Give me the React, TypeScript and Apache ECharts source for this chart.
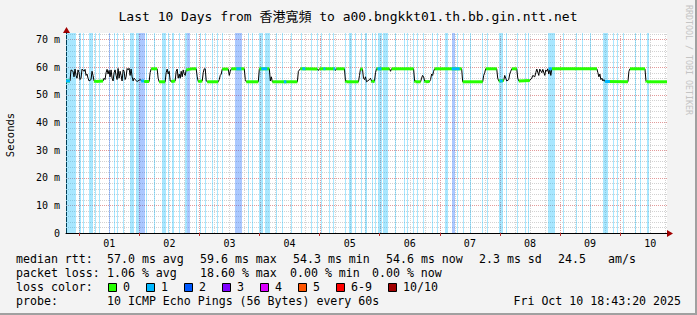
import { useEffect, useRef } from 'react';
import * as echarts from 'echarts';

const MONO = "'DejaVu Sans Mono', 'Noto Sans CJK TC', monospace";

const titleText = 'Last 10 Days from 香港寬頻 to a00.bngkkt01.th.bb.gin.ntt.net';
const dayLabels = ['01', '02', '03', '04', '05', '06', '07', '08', '09', '10'];
const SPAN_HOURS = 240; // 10 days, hours since Sep 30 18:43:20
const FIRST_MIDNIGHT = 5.28; // hours from start to Oct 1 00:00
const Y_MAX = 72.35; // ms
const yLabelValues = [0, 10, 20, 30, 40, 50, 60, 70];

const lossColors = ['#26ff00', '#00b8ff', '#0059ff', '#7e00ff', '#dd00ff', '#ff5500', '#ff0000', '#a10000'];
const lossBandColors = ['rgba(38,255,0,0.33)', 'rgba(0,184,255,0.34)', 'rgba(0,89,255,0.33)'];
const lossLabels = ['0', '1', '2', '3', '4', '5', '6-9', '10/10'];

// median rtt samples [hours since start, ms]
const medianRtt: [number, number][] = [
  [0, 55.0], [1.6, 55.0], [2.0, 59.0], [2.8, 58.5], [3.2, 56.5], [3.6, 59.3], [4.0, 57], [4.4, 56], [4.8, 59], [5.2, 58],
  [5.6, 55.5], [6.0, 56], [6.4, 59.3], [7.2, 58.5], [7.6, 59.2], [8.0, 57], [8.4, 57.5], [8.8, 56], [9.2, 55], [10.0, 55.5],
  [10.4, 58.5], [10.8, 57], [11.2, 55], [12.0, 54.8], [14.8, 55], [15.2, 56], [15.6, 55.5], [16.0, 58], [16.4, 59.2], [16.8, 57.5],
  [17.2, 58.8], [17.6, 56.5], [18.0, 59], [18.4, 56], [18.8, 55], [19.2, 58], [19.6, 59], [20.0, 57], [20.4, 55.5], [20.8, 59.5],
  [21.2, 56], [21.6, 58.5], [22.0, 57], [22.4, 55], [22.8, 59], [23.2, 58.5], [23.6, 55.5], [24.0, 56.5], [24.4, 59.5], [24.8, 59],
  [25.2, 59.6], [25.6, 57], [26.0, 59.3], [26.4, 56.5], [26.8, 55], [27.2, 56], [27.6, 55.5], [28.4, 54.8], [29.6, 55.5], [30.0, 55.2],
  [31.2, 54.8], [33.2, 54.8], [33.6, 58], [34.0, 59.4], [36.4, 59.4], [36.8, 56], [37.2, 54.7], [39.6, 54.7], [40.0, 58], [40.4, 59.3],
  [40.8, 57.5], [41.2, 58.5], [41.6, 55], [42.0, 54.8], [43.6, 55], [44.0, 58.5], [44.4, 59.3], [44.8, 56], [45.2, 57.5], [45.6, 56],
  [46.0, 58.5], [46.4, 56.5], [46.8, 59], [47.2, 57.5], [47.6, 57], [48.0, 59], [49.2, 59.2], [50.4, 59.4], [52.0, 59.4], [52.4, 56.5],
  [52.8, 54.8], [54.4, 55], [54.8, 58], [55.2, 59.4], [55.6, 59.4], [56.0, 55], [56.4, 54.7], [60.8, 54.7], [61.2, 55.5], [61.6, 57],
  [62.0, 57.5], [62.4, 59.3], [64.8, 59.3], [65.2, 57], [65.6, 58.5], [66.0, 59.4], [71.2, 59.4], [71.6, 55.5], [72.0, 54.7], [76.8, 54.7],
  [77.2, 59.4], [81.2, 59.4], [81.6, 55], [82.0, 56.5], [82.4, 54.7], [92.4, 54.7], [92.8, 58.5], [93.6, 59.4], [100.4, 59.3], [100.8, 58.8],
  [101.2, 59.4], [107.2, 59.4], [107.6, 58.8], [108.0, 59.4], [111.2, 59.4], [111.6, 55], [112.0, 54.7], [116.8, 54.7], [117.2, 57], [117.6, 59.4],
  [118.4, 59.2], [118.8, 56], [119.2, 55.5], [119.6, 56.5], [120.0, 54.7], [121.2, 55.5], [121.6, 56], [122.0, 55], [122.4, 54.7], [123.2, 55],
  [123.6, 58], [124.0, 59.4], [129.2, 59.4], [129.6, 58.5], [130.0, 59.4], [138.8, 59.4], [139.2, 55], [139.6, 54.7], [141.6, 54.7], [142.0, 56],
  [142.4, 57], [142.8, 56.5], [143.2, 55], [143.6, 54.7], [145.2, 54.8], [145.6, 55.5], [146.0, 57.5], [146.4, 57], [146.8, 58.5], [147.2, 59.4],
  [158.0, 59.4], [158.4, 54.7], [166.4, 54.7], [166.8, 57], [167.2, 58], [167.6, 59.4], [172.0, 59.4], [172.4, 56], [172.8, 55], [174.8, 55.2],
  [175.2, 57], [175.6, 56], [176.0, 55], [176.8, 55.5], [177.2, 57.5], [177.6, 58.5], [178.0, 59.4], [180.0, 59.4], [180.4, 56], [180.8, 55],
  [185.2, 55.2], [186.0, 56], [186.4, 57], [187.2, 56.5], [187.6, 58], [188.0, 59.3], [188.8, 57], [189.2, 59.3], [190.0, 58], [190.4, 59.2],
  [191.2, 57], [191.6, 59], [192.0, 58.5], [192.4, 59.4], [192.8, 57.5], [193.2, 59.4], [193.6, 57], [194.0, 59.4], [212.0, 59.4], [212.4, 58],
  [212.8, 56.5], [213.2, 57.5], [213.6, 55.5], [214.0, 56], [214.4, 55], [214.8, 55.5], [215.2, 54.8], [224.4, 54.7], [224.8, 58.5], [225.2, 59.4],
  [231.2, 59.4], [231.6, 55], [232.0, 54.7], [240, 54.7],
];

// stretches of the median drawn in the 1/10 loss colour [from h, to h, ms]
const blueSpans: [number, number, number][] = [
  [0, 1.6, 55.0], [30.0, 31.2, 55.0], [68.0, 70.0, 59.4], [78.0, 80.4, 59.4], [87.0, 88.0, 54.7], [94.4, 95.6, 59.4],
  [102.8, 103.6, 59.4], [106.8, 107.6, 59.4], [124.4, 126.0, 59.4], [154.0, 157.2, 59.4], [173.2, 174.4, 55.0],
  [192.8, 194.0, 59.4], [215.2, 217.2, 54.8],
];

// loss background bands [from h, to h, loss level]
const lossBands: [number, number, number][] = [
  [0, 4.0, 1], [5.2, 6.0, 1], [6.8, 7.2, 1], [9.2, 10.8, 1], [11.6, 12.0, 1], [13.2, 13.6, 1], [17.2, 17.6, 2], [19.2, 19.6, 1],
  [20.4, 20.8, 1], [22.8, 23.2, 1], [25.6, 27.2, 1], [28.0, 29.2, 1], [29.2, 31.6, 2], [32.0, 32.4, 1], [35.2, 35.6, 1],
  [38.4, 40.0, 1], [40.8, 41.2, 1], [42.4, 43.2, 1], [45.2, 45.6, 1], [47.6, 48.4, 1], [48.4, 49.6, 2], [52.0, 52.4, 1],
  [53.6, 54.0, 1], [55.6, 56.0, 1], [58.4, 58.8, 1], [60.4, 60.8, 1], [62.4, 62.8, 1], [67.6, 70.4, 2], [72.8, 73.2, 1],
  [74.4, 74.8, 1], [77.2, 78.8, 1], [79.6, 81.6, 1], [84.0, 84.4, 1], [86.4, 86.8, 1], [90.0, 90.4, 1], [94.0, 94.4, 1],
  [98.0, 98.4, 1], [100.4, 100.8, 1], [102.0, 102.4, 1], [105.2, 105.6, 1], [106.8, 107.2, 1], [111.6, 112.0, 1],
  [113.2, 114.4, 1], [115.6, 116.0, 1], [118.0, 118.4, 1], [119.6, 120.0, 1], [122.0, 122.4, 1], [123.2, 123.6, 1],
  [124.4, 126.0, 1], [126.4, 128.4, 1], [131.2, 131.6, 1], [134.8, 135.2, 1], [136.0, 136.4, 1], [138.4, 138.8, 1],
  [140.0, 140.4, 1], [142.4, 142.8, 1], [146.0, 146.4, 1], [148.0, 148.4, 1], [151.2, 152.4, 1], [154.0, 155.2, 2],
  [156.0, 156.4, 1], [158.4, 158.8, 1], [161.2, 161.6, 1], [166.0, 166.4, 1], [168.0, 168.4, 1], [172.8, 174.4, 1],
  [175.6, 176.0, 1], [180.0, 180.4, 1], [183.2, 183.6, 1], [184.4, 184.8, 1], [192.4, 195.2, 1], [198.4, 198.8, 1],
  [203.6, 204.0, 1], [206.0, 206.4, 1], [209.2, 209.6, 1], [214.4, 216.4, 1], [218.4, 218.8, 1], [220.0, 220.4, 1],
  [222.4, 222.8, 1], [227.2, 227.6, 1], [229.2, 229.6, 1], [232.0, 232.8, 1],
];

const medianStats = ['57.0 ms avg', '59.6 ms max', '54.3 ms min', '54.6 ms now', '2.3 ms sd', '24.5', 'am/s'];
const lossStats = ['1.06 % avg', '18.60 % max', '0.00 % min', '0.00 % now'];
const probeText = '10 ICMP Echo Pings (56 Bytes) every 60s';
const dateText = 'Fri Oct 10 18:43:20 2025';

export default function App() {
  const ref = useRef<HTMLDivElement>(null);

  useEffect(() => {
    if (!ref.current) return;
    const chart = echarts.init(ref.current, undefined, { renderer: 'svg' });

    const dayBoundaries: number[] = [];
    for (let d = 0; d < 10; d++) dayBoundaries.push(FIRST_MIDNIGHT + 24 * d);
    const noonPositions = dayLabels.map((_, i) => FIRST_MIDNIGHT + 12 + 24 * i);
    const vGrid: [number, number][] = [];
    for (let k = 0; FIRST_MIDNIGHT + 6 * k < SPAN_HOURS; k++) vGrid.push([FIRST_MIDNIGHT + 6 * k, k % 4 === 0 ? 1 : 0]);
    const hGrid: [number, number][] = [];
    for (let v = 2; v <= Y_MAX; v += 2) hGrid.push([v, v % 10 === 0 ? 1 : 0]);

    // flat stretches of the median get the loss-0 colour
    const flatSegs: number[][] = [];
    for (let i = 0; i < medianRtt.length - 1; i++) {
      const [h1, v1] = medianRtt[i];
      const [h2, v2] = medianRtt[i + 1];
      if (Math.abs(v2 - v1) <= 0.3 && h2 - h1 >= 0.4) flatSegs.push([h1, v1, h2, v2]);
    }

    const medStx = [107, 200, 293, 386, 479, 558, 608];
    const lossStx = [107, 200, 290, 372];
    const graphics: any[] = [];
    const txt = (text: string, x: number, y: number, extra: any = {}) => ({
      type: 'text', x, y, silent: true,
      style: { text, fill: '#000', font: `11.6px ${MONO}`, textAlign: 'left', textVerticalAlign: 'middle', align: 'left', verticalAlign: 'middle', ...extra },
    });
    graphics.push({ type: 'rect', shape: { x: 0, y: 313, width: 697, height: 2 }, style: { fill: '#a0a0a0' }, silent: true });
    graphics.push({ type: 'rect', shape: { x: 695, y: 0, width: 2, height: 315 }, style: { fill: '#a0a0a0' }, silent: true });
    graphics.push(txt(titleText, 348, 16, { font: `13px ${MONO}`, textAlign: 'center', align: 'center' }));
    graphics.push({ type: 'text', x: 10, y: 135, rotation: Math.PI / 2, silent: true,
      style: { text: 'Seconds', fill: '#000', font: `10.5px ${MONO}`, textAlign: 'center', align: 'center', textVerticalAlign: 'middle', verticalAlign: 'middle' } });
    graphics.push({ type: 'text', x: 689, y: 60, rotation: -Math.PI / 2, silent: true,
      style: { text: 'RRDTOOL / TOBI OETIKER', fill: '#c4c4c4', font: `8.3px ${MONO}`, textAlign: 'center', align: 'center', textVerticalAlign: 'middle', verticalAlign: 'middle' } });
    // axis arrows
    graphics.push({ type: 'polygon', silent: true, shape: { points: [[63, 33], [66.5, 27], [70, 33]] }, style: { fill: '#a10000' } });
    graphics.push({ type: 'polygon', silent: true, shape: { points: [[667, 230], [673, 233.5], [667, 237]] }, style: { fill: '#a10000' } });
    // legend
    graphics.push(txt('median rtt:', 16, 259));
    medianStats.forEach((s, i) => graphics.push(txt(s, medStx[i], 259)));
    graphics.push(txt('packet loss:', 16, 273));
    lossStats.forEach((s, i) => graphics.push(txt(s, lossStx[i], 273)));
    graphics.push(txt('loss color:', 16, 287));
    let lx = 108;
    lossLabels.forEach((lab, i) => {
      graphics.push({ type: 'rect', silent: true, shape: { x: lx + 0.5, y: 283.5, width: 8, height: 8 }, style: { fill: lossColors[i], stroke: '#000', lineWidth: 1 } });
      graphics.push(txt(lab, lx + 15, 287));
      lx = lx + 15 + lab.length * 7 + 16;
    });
    graphics.push(txt('probe:', 16, 301));
    graphics.push(txt(probeText, 107, 301));
    graphics.push(txt(dateText, 681, 301, { textAlign: 'right', align: 'right' }));

    chart.setOption({
      animation: false,
      backgroundColor: '#f3f3f3',
      grid: { left: 66, right: 30, top: 33, bottom: 82, show: true, backgroundColor: '#ffffff', borderWidth: 0 },
      xAxis: {
        type: 'value', min: 0, max: SPAN_HOURS,
        axisLine: { show: true, lineStyle: { color: '#000', width: 1 } },
        axisTick: { show: true, customValues: dayBoundaries, length: 3, lineStyle: { color: '#c03030' } },
        axisLabel: {
          customValues: noonPositions,
          formatter: (v: number) => dayLabels[Math.round((v - FIRST_MIDNIGHT - 12) / 24)] ?? '',
          fontFamily: MONO, fontSize: 10, color: '#000', margin: 5,
        },
        splitLine: { show: false },
      },
      yAxis: {
        type: 'value', min: 0, max: Y_MAX,
        axisLine: { show: true, lineStyle: { color: '#000', width: 1 } },
        axisTick: { show: false },
        axisLabel: {
          customValues: yLabelValues,
          formatter: (v: number) => (Math.round(v) === 0 ? '0' : `${Math.round(v)} m`),
          fontFamily: MONO, fontSize: 10, color: '#000', margin: 6,
        },
        splitLine: { show: false },
      },
      graphic: graphics,
      series: [
        {
          type: 'custom', name: 'vgrid', silent: true, z: 1, data: vGrid,
          renderItem: (_p: any, api: any) => {
            const a = api.coord([api.value(0), 0]);
            const b = api.coord([api.value(0), Y_MAX]);
            const x = Math.round(a[0]) + 0.5;
            const major = api.value(1) === 1;
            return { type: 'line', shape: { x1: x, y1: a[1], x2: x, y2: b[1] },
              style: { stroke: major ? '#e29a9a' : '#d2d2d2', lineWidth: 1, lineDash: [1, 1] } };
          },
        },
        {
          type: 'custom', name: 'hgrid', silent: true, z: 1, data: hGrid,
          renderItem: (_p: any, api: any) => {
            const a = api.coord([0, api.value(0)]);
            const b = api.coord([SPAN_HOURS, api.value(0)]);
            const y = Math.round(a[1]) + 0.5;
            const major = api.value(1) === 1;
            return { type: 'line', shape: { x1: a[0], y1: y, x2: b[0], y2: y },
              style: { stroke: major ? '#e29a9a' : '#d2d2d2', lineWidth: 1, lineDash: [1, 1] } };
          },
        },
        {
          type: 'custom', name: 'loss', silent: true, z: 2, data: lossBands,
          renderItem: (_p: any, api: any) => {
            const a = api.coord([api.value(0), Y_MAX]);
            const b = api.coord([api.value(1), 0]);
            const x1 = Math.round(a[0]);
            const w = Math.max(1, Math.round(b[0]) - x1);
            return { type: 'rect', shape: { x: x1, y: a[1], width: w, height: b[1] - a[1] },
              style: { fill: lossBandColors[api.value(2)] } };
          },
        },
        {
          type: 'line', name: 'median', z: 3, silent: true, data: medianRtt, showSymbol: false, symbol: 'none',
          lineStyle: { color: '#000', width: 1 },
        },
        {
          type: 'custom', name: 'median0', silent: true, z: 4, data: flatSegs,
          renderItem: (_p: any, api: any) => {
            const a = api.coord([api.value(0), api.value(1)]);
            const b = api.coord([api.value(2), api.value(3)]);
            return { type: 'line', shape: { x1: a[0], y1: a[1], x2: b[0], y2: b[1] },
              style: { stroke: lossColors[0], lineWidth: 3 } };
          },
        },
        {
          type: 'custom', name: 'median1', silent: true, z: 5, data: blueSpans,
          renderItem: (_p: any, api: any) => {
            const a = api.coord([api.value(0), api.value(2)]);
            const b = api.coord([api.value(1), api.value(2)]);
            return { type: 'line', shape: { x1: a[0], y1: a[1], x2: b[0], y2: b[1] },
              style: { stroke: lossColors[1], lineWidth: 3 } };
          },
        },
      ],
    });
    return () => chart.dispose();
  }, []);

  return <div ref={ref} style={{ position: 'fixed', left: 0, top: 0, width: 697, height: 315 }} />;
}
